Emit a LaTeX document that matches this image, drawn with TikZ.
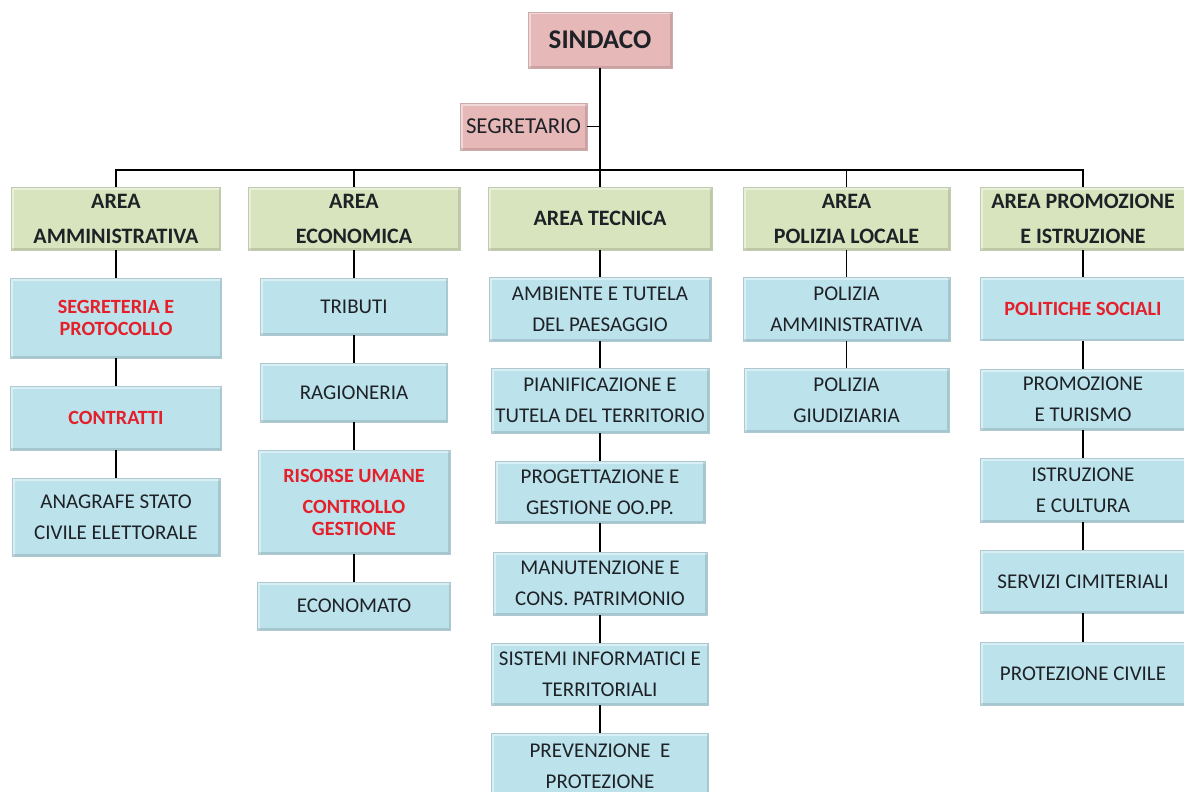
\documentclass[tikz,border=0pt]{standalone}
\usepackage{fontspec}
\setmainfont{Carlito}
\definecolor{boxpink}{HTML}{E6B9B8}
\definecolor{boxgreen}{HTML}{D8E4BD}
\definecolor{boxblue}{HTML}{BCE2EC}
\definecolor{txtdark}{HTML}{1E2226}
\definecolor{txtred}{HTML}{E4202B}
\begin{document}
\begin{tikzpicture}
	[x=1pt, y=-1pt,
	every node/.style={rectangle,align=center,inner sep=2pt,text=txtdark,
		path picture={\draw[white,opacity=.45,line width=5pt]
			(path picture bounding box.south west) |- (path picture bounding box.north east);
			\draw[black,opacity=.12,line width=4pt]
			(path picture bounding box.south west) -| (path picture bounding box.north east);}},
	topbox/.style={fill=boxpink,draw=boxpink!75!gray,line width=.8pt},
	areabox/.style={fill=boxgreen,draw=boxgreen!75!gray,line width=.8pt,minimum height=63pt,
		font=\bfseries\fontsize{22}{35}\selectfont},
	unitbox/.style={fill=boxblue,draw=boxblue!75!gray,line width=.8pt,minimum height=63pt,
		font=\fontsize{21}{31}\selectfont},
	redtxt/.style={text=txtred,font=\bfseries\fontsize{20.2}{22}\selectfont},
	link/.style={line width=1.6pt,black}]
	\clip (0,0) rectangle (1184,792);
	\useasboundingbox (0,0) rectangle (1184,792);
	\fill[white] (0,0) rectangle (1184,792);
	\node (sindaco) [topbox,minimum width=144pt,minimum height=56pt,
		font=\bfseries\fontsize{27}{30}\selectfont] at (600,40) {SINDACO};
	\node (segretario) [topbox,minimum width=127pt,minimum height=47pt,
		font=\fontsize{22.8}{26}\selectfont] at (523.5,126.5) {SEGRETARIO};
	\coordinate (bus) at (600,170);
	\node (amm) [areabox,minimum width=209pt] at (116,218.5) {AREA\\AMMINISTRATIVA};
	\node (eco) [areabox,minimum width=212pt] at (354,218.5) {AREA\\ECONOMICA};
	\node (tec) [areabox,minimum width=224pt] at (600,218.5) {AREA TECNICA};
	\node (pol) [areabox,minimum width=207pt] at (846.5,218.5) {AREA\\POLIZIA LOCALE};
	\node (prom) [areabox,minimum width=206pt] at (1083,218.5) {AREA PROMOZIONE\\E ISTRUZIONE};
	\node (segprot) [unitbox,redtxt,minimum width=211pt,minimum height=80pt] at (116,318) {SEGRETERIA E\\PROTOCOLLO};
	\node (contratti) [unitbox,redtxt,minimum width=211pt,minimum height=64pt] at (116,418) {CONTRATTI};
	\node (anagrafe) [unitbox,minimum width=208pt,minimum height=78pt] at (116,517) {ANAGRAFE STATO\\CIVILE ELETTORALE};
	\node (tributi) [unitbox,minimum width=187pt,minimum height=57pt] at (354,306.5) {TRIBUTI};
	\node (ragioneria) [unitbox,minimum width=187pt,minimum height=59pt] at (354,392.5) {RAGIONERIA};
	\node (risorse) [unitbox,redtxt,minimum width=192pt,minimum height=104pt] at (354,502)
		{RISORSE UMANE\\[9pt]CONTROLLO\\GESTIONE};
	\node (economato) [unitbox,minimum width=193pt,minimum height=48pt] at (354,606) {ECONOMATO};
	\node (ambiente) [unitbox,minimum width=222pt,minimum height=64pt] at (600,309) {AMBIENTE E TUTELA\\DEL PAESAGGIO};
	\node (pianif) [unitbox,minimum width=218pt,minimum height=65pt] at (600,400.5) {PIANIFICAZIONE E\\TUTELA DEL TERRITORIO};
	\node (progett) [unitbox,minimum width=210pt,minimum height=62pt] at (600,492) {PROGETTAZIONE E\\GESTIONE OO.PP.};
	\node (manut) [unitbox,minimum width=214pt,minimum height=63pt] at (600,583.5) {MANUTENZIONE E\\CONS. PATRIMONIO};
	\node (sistemi) [unitbox,minimum width=217pt,minimum height=62pt] at (600,674) {SISTEMI INFORMATICI E\\TERRITORIALI};
	\node (prevenz) [unitbox,minimum width=217pt,minimum height=67pt] at (600,766.5) {PREVENZIONE\ \ E\\PROTEZIONE};
	\node (polamm) [unitbox,minimum width=207pt,minimum height=64pt] at (846.5,309) {POLIZIA\\AMMINISTRATIVA};
	\node (polgiud) [unitbox,minimum width=205pt,minimum height=64pt] at (846.5,400) {POLIZIA\\GIUDIZIARIA};
	\node (polsoc) [unitbox,redtxt,minimum width=206pt,minimum height=63pt] at (1083,309) {POLITICHE SOCIALI};
	\node (turismo) [unitbox,minimum width=206pt,minimum height=61pt] at (1083,399.5) {PROMOZIONE\\E TURISMO};
	\node (cultura) [unitbox,minimum width=206pt,minimum height=64pt] at (1083,490) {ISTRUZIONE\\E CULTURA};
	\node (cimiter) [unitbox,minimum width=206pt,minimum height=63pt] at (1083,581.5) {SERVIZI CIMITERIALI};
	\node (protciv) [unitbox,minimum width=206pt,minimum height=63pt] at (1083,673.5) {PROTEZIONE CIVILE};
	\draw [link] (sindaco) -- (bus);
	\draw [link] (segretario) -- (segretario -| sindaco.south);
	\draw [link] (amm.north) |- (bus) -| (prom.north);
	\draw [link] (bus) -| (eco.north);
	\draw [link] (bus) -- (tec.north);
	\draw [link] (bus) -| (pol.north);
	\draw [link] (amm) -- (segprot) -- (contratti) -- (anagrafe);
	\draw [link] (eco) -- (tributi) -- (ragioneria) -- (risorse) -- (economato);
	\draw [link] (tec) -- (ambiente) -- (pianif) -- (progett) -- (manut) -- (sistemi) -- (prevenz);
	\draw [link] (pol) -- (polamm) -- (polgiud);
	\draw [link] (prom) -- (polsoc) -- (turismo) -- (cultura) -- (cimiter) -- (protciv);
\end{tikzpicture}
\end{document}
